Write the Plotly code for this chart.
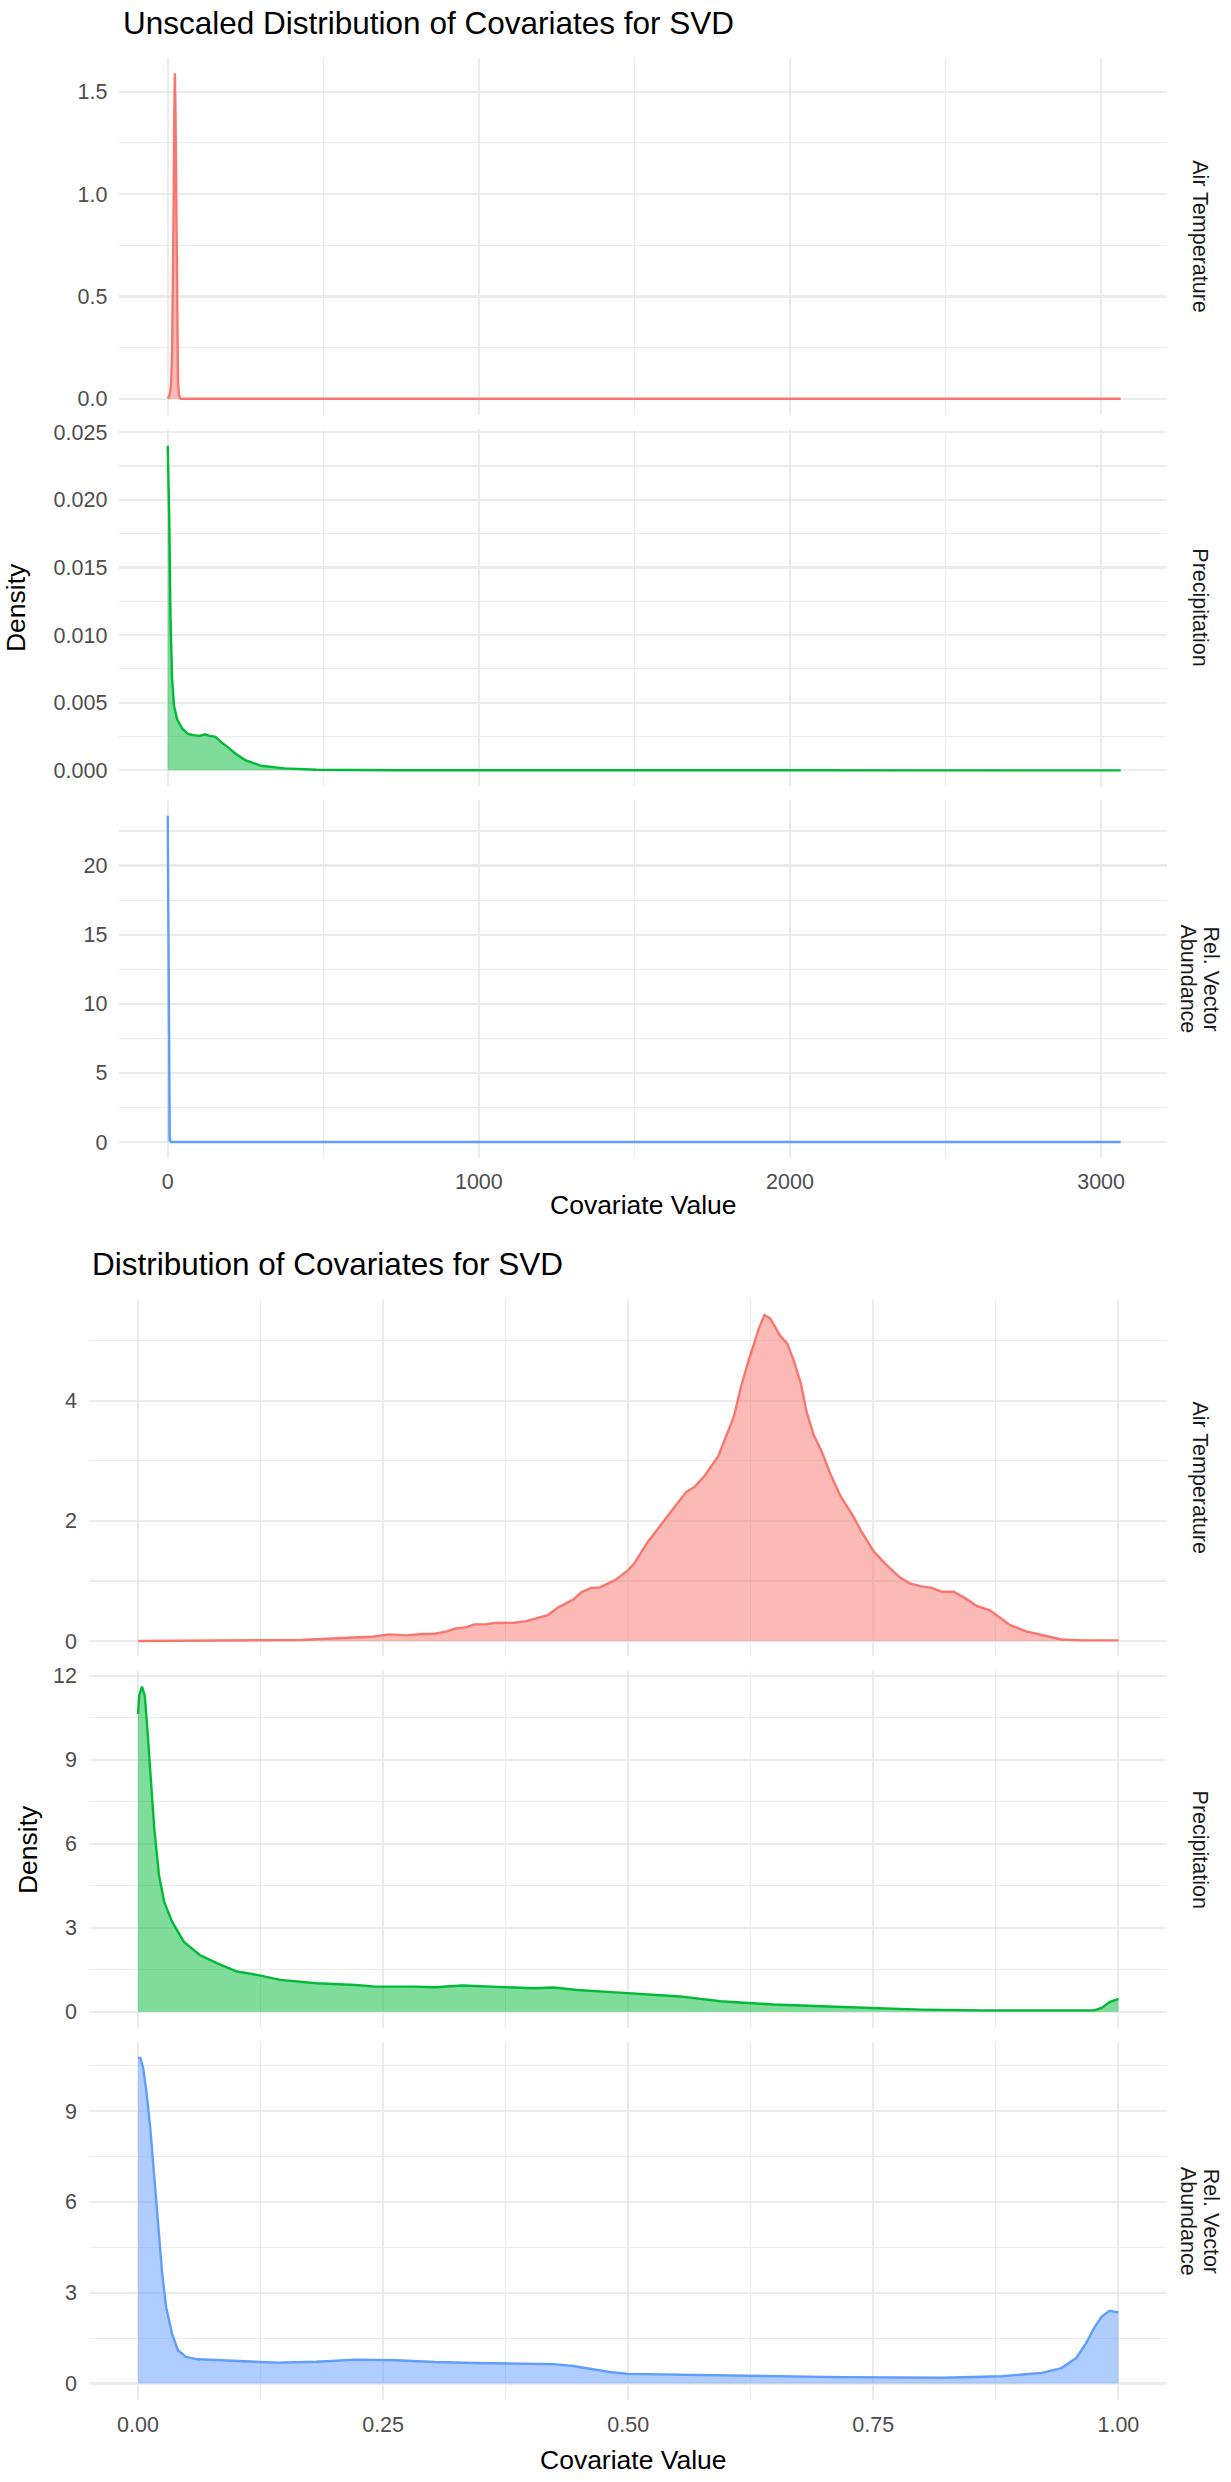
import plotly.graph_objects as go

W, H = 1231, 2482
FONT = "Liberation Sans, Arial, Helvetica, sans-serif"

# ------------------------- data -------------------------
covariates = ["Air Temperature", "Precipitation", "Rel. Vector Abundance"]
line_colors = ["#F8766D", "#00BA38", "#619CFF"]
fill_colors = ["rgba(248,118,109,0.5)", "rgba(0,186,56,0.5)", "rgba(97,156,255,0.5)"]

# Unscaled densities
raw_air_x = [0, 4, 8, 11, 14, 17, 19, 21, 23, 25, 27, 29, 31, 33, 36, 39, 43, 3063]
raw_air_y = [0.0, 0.01, 0.03, 0.08, 0.22, 0.55, 0.95, 1.38, 1.59, 1.40, 0.98, 0.55, 0.25, 0.09, 0.02, 0.005, 0.0, 0.0]

raw_pre_x = [0, 5, 9, 14, 20, 30, 46, 65, 84, 103, 119, 135, 154, 173, 192, 217, 249, 300, 376, 478, 732, 3063]
raw_pre_y = [0.0240, 0.0185, 0.0112, 0.0068, 0.0048, 0.0038, 0.0031, 0.0027, 0.0026, 0.00255, 0.00267,
             0.00255, 0.00248, 0.00206, 0.00174, 0.00125, 0.00076, 0.00034, 0.00015, 0.00005, 0.00001, 0.0]

raw_vec_x = [0, 1.3, 2.5, 3.8, 5.1, 6.5, 8, 10, 3063]
raw_vec_y = [23.6, 19.7, 16.6, 10.9, 1.5, 0.5, 0.1, 0.0, 0.0]

# Scaled densities
sc_air_x = [0.0, 0.101, 0.166, 0.214, 0.238, 0.256, 0.266, 0.274, 0.290, 0.303, 0.315, 0.323, 0.335,
            0.343, 0.355, 0.363, 0.383, 0.395, 0.407, 0.418, 0.428, 0.438, 0.444, 0.452, 0.462, 0.471,
            0.487, 0.500, 0.506, 0.520, 0.533, 0.545, 0.559, 0.568, 0.578, 0.592, 0.602, 0.608, 0.615,
            0.623, 0.633, 0.639, 0.645, 0.655, 0.662, 0.668, 0.676, 0.682, 0.689, 0.697, 0.707, 0.717,
            0.728, 0.738, 0.750, 0.762, 0.777, 0.787, 0.799, 0.809, 0.820, 0.832, 0.844, 0.856, 0.869,
            0.877, 0.889, 0.906, 0.926, 0.942, 0.963, 1.0]
sc_air_y = [0.0, 0.005, 0.017, 0.055, 0.07, 0.11, 0.10, 0.094, 0.116, 0.122, 0.16, 0.205, 0.232,
            0.277, 0.277, 0.30, 0.304, 0.326, 0.38, 0.43, 0.553, 0.647, 0.69, 0.81, 0.885, 0.893,
            1.017, 1.18, 1.29, 1.65, 1.93, 2.19, 2.48, 2.57, 2.75, 3.08, 3.51, 3.75, 4.23,
            4.68, 5.19, 5.43, 5.37, 5.08, 4.96, 4.71, 4.30, 3.81, 3.44, 3.17, 2.75, 2.40,
            2.12, 1.82, 1.50, 1.29, 1.06, 0.96, 0.91, 0.89, 0.82, 0.82, 0.71, 0.58, 0.51,
            0.41, 0.27, 0.16, 0.08, 0.025, 0.01, 0.01]

sc_pre_x = [0.0, 0.0012, 0.004, 0.0069, 0.0093, 0.0125, 0.0166, 0.0214, 0.0267, 0.0347, 0.0468, 0.063,
            0.081, 0.101, 0.1214, 0.145, 0.182, 0.222, 0.242, 0.283, 0.303, 0.331, 0.363, 0.403, 0.424,
            0.448, 0.471, 0.500, 0.553, 0.594, 0.648, 0.697, 0.750, 0.799, 0.861, 0.922, 0.975, 0.983,
            0.991, 1.0]
sc_pre_y = [10.64, 11.29, 11.62, 11.29, 10.22, 8.44, 6.54, 4.88, 3.93, 3.22, 2.50, 2.03,
            1.73, 1.44, 1.32, 1.14, 1.02, 0.96, 0.90, 0.90, 0.88, 0.94, 0.89, 0.84, 0.87,
            0.78, 0.73, 0.67, 0.55, 0.38, 0.26, 0.20, 0.14, 0.08, 0.05, 0.05, 0.05, 0.14,
            0.35, 0.46]

sc_vec_x = [0.0, 0.0024, 0.0052, 0.0085, 0.0125, 0.0166, 0.0206, 0.0247, 0.0287, 0.0347, 0.0407, 0.0488,
            0.061, 0.101, 0.1415, 0.1818, 0.222, 0.263, 0.303, 0.343, 0.383, 0.424, 0.444, 0.464, 0.481,
            0.500, 0.594, 0.717, 0.820, 0.881, 0.922, 0.942, 0.957, 0.967, 0.975, 0.983, 0.991, 1.0]
sc_vec_y = [10.76, 10.76, 10.43, 9.66, 8.45, 6.92, 5.16, 3.62, 2.52, 1.65, 1.10, 0.88,
            0.80, 0.75, 0.69, 0.72, 0.79, 0.77, 0.71, 0.68, 0.66, 0.64, 0.58, 0.46, 0.38,
            0.32, 0.27, 0.21, 0.19, 0.24, 0.35, 0.51, 0.84, 1.33, 1.82, 2.21, 2.40, 2.35]

# Axis ticks
top_y_ticks = [[0, 0.5, 1.0, 1.5], [0, 0.005, 0.01, 0.015, 0.02, 0.025], [0, 5, 10, 15, 20]]
top_y_text = [["0.0", "0.5", "1.0", "1.5"], ["0.000", "0.005", "0.010", "0.015", "0.020", "0.025"],
              ["0", "5", "10", "15", "20"]]
top_y_minor = [[0.25, 0.75, 1.25], [0.0025, 0.0075, 0.0125, 0.0175, 0.0225], [2.5, 7.5, 12.5, 17.5, 22.5]]
top_x_ticks = [0, 1000, 2000, 3000]
top_x_text = ["0", "1000", "2000", "3000"]
top_x_minor = [500, 1500, 2500]

bot_y_ticks = [[0, 2, 4], [0, 3, 6, 9, 12], [0, 3, 6, 9]]
bot_y_text = [["0", "2", "4"], ["0", "3", "6", "9", "12"], ["0", "3", "6", "9"]]
bot_y_minor = [[1, 3, 5], [1.5, 4.5, 7.5, 10.5], [1.5, 4.5, 7.5, 10.5]]
bot_x_ticks = [0, 0.25, 0.5, 0.75, 1.0]
bot_x_text = ["0.00", "0.25", "0.50", "0.75", "1.00"]
bot_x_minor = [0.125, 0.375, 0.625, 0.875]

# ------------------------- layout geometry (pixels) -------------------------
def px(p):
    return p / W

def py(p):
    return 1 - p / H

top_panels = [(50, 408), (422, 780.5), (795, 1153.3)]
bot_panels = [(1295, 1653.3), (1668.3, 2026.7), (2041, 2400)]
top_xdom = (119.4, 1167.4)
bot_xdom = (89, 1167.4)
top_xrange = [-155.3, 3213]
bot_xrange = [-0.05, 1.05]
top_yranges = [[-0.0779, 1.6658], [-0.001154, 0.02526], [-1.125, 24.71]]
bot_yranges = [[-0.249, 5.698], [-0.584, 12.18], [-0.553, 11.27]]

GRID = "#EBEBEB"
MAJ_W = 2.2
MIN_W = 1.1
TICK_FONT = dict(family=FONT, size=21.5, color="#4D4D4D")

fig = go.Figure()
series = [(raw_air_x, raw_air_y), (raw_pre_x, raw_pre_y), (raw_vec_x, raw_vec_y),
          (sc_air_x, sc_air_y), (sc_pre_x, sc_pre_y), (sc_vec_x, sc_vec_y)]
for i, (xs, ys) in enumerate(series):
    k = i % 3
    n = i + 1
    fig.add_trace(go.Scatter(
        x=xs, y=ys, mode="lines", fill="tozeroy",
        fillcolor=fill_colors[k], line=dict(color=line_colors[k], width=2.4),
        xaxis="x" if n == 1 else f"x{n}", yaxis="y" if n == 1 else f"y{n}",
        showlegend=False, hoverinfo="skip"))

layout = dict(width=W, height=H, margin=dict(l=0, r=0, t=0, b=0),
              paper_bgcolor="white", plot_bgcolor="white", showlegend=False,
              font=dict(family=FONT))

for i in range(6):
    n = i + 1
    top = i < 3
    k = i % 3
    xname = "xaxis" if n == 1 else f"xaxis{n}"
    yname = "yaxis" if n == 1 else f"yaxis{n}"
    ytag = "y" if n == 1 else f"y{n}"
    xtag = "x" if n == 1 else f"x{n}"
    p0, p1 = (top_panels if top else bot_panels)[k]
    xd = top_xdom if top else bot_xdom
    layout[xname] = dict(
        domain=[px(xd[0]), px(xd[1])], anchor=ytag,
        range=top_xrange if top else bot_xrange,
        tickmode="array", tickvals=top_x_ticks if top else bot_x_ticks,
        ticktext=top_x_text if top else bot_x_text,
        showticklabels=(k == 2), tickfont=TICK_FONT, ticks="", ticklabelstandoff=9,
        showgrid=True, gridcolor=GRID, gridwidth=MAJ_W, zeroline=False, showline=False,
        minor=dict(tickmode="array", tickvals=top_x_minor if top else bot_x_minor,
                   showgrid=True, gridcolor=GRID, gridwidth=MIN_W, ticks=""),
        fixedrange=True)
    layout[yname] = dict(
        domain=[py(p1), py(p0)], anchor=xtag,
        range=(top_yranges if top else bot_yranges)[k],
        tickmode="array", tickvals=(top_y_ticks if top else bot_y_ticks)[k],
        ticktext=(top_y_text if top else bot_y_text)[k],
        tickfont=TICK_FONT, ticks="", ticklabelstandoff=11,
        showgrid=True, gridcolor=GRID, gridwidth=MAJ_W, zeroline=False, showline=False,
        minor=dict(tickmode="array", tickvals=(top_y_minor if top else bot_y_minor)[k],
                   showgrid=True, gridcolor=GRID, gridwidth=MIN_W, ticks=""),
        fixedrange=True)

ann = []
def text(x, y, s, size, color="black", angle=0, xanchor="center", yanchor="middle"):
    ann.append(dict(x=px(x), y=py(y), xref="paper", yref="paper", text=s, showarrow=False,
                    xanchor=xanchor, yanchor=yanchor, textangle=angle,
                    font=dict(family=FONT, size=size, color=color)))

# titles
text(120.6, 15.3, "Unscaled Distribution of Covariates for SVD", 31.5, xanchor="left")
text(90, 1260.5, "Distribution of Covariates for SVD", 31.5, xanchor="left")
# axis titles
text(643.4, 1201, "Covariate Value", 26.5)
text(633.5, 2459.5, "Covariate Value", 26.5)
text(15.5, 601.5, "Density", 26.5, angle=-90)
text(27.5, 1847.5, "Density", 26.5, angle=-90)
# strip labels
for panels in (top_panels, bot_panels):
    for k in range(3):
        c = (panels[k][0] + panels[k][1]) / 2
        if k < 2:
            text(1200, c, covariates[k], 21.5, color="#1A1A1A", angle=90)
        else:
            text(1210.5, c, "Rel. Vector", 21.5, color="#1A1A1A", angle=90)
            text(1187.5, c, "Abundance", 21.5, color="#1A1A1A", angle=90)

layout["annotations"] = ann
fig.update_layout(**layout)
fig.write_html(
    "out.html",
    config={"displayModeBar": False, "staticPlot": True},
    post_script="document.body.style.margin='0';document.body.style.padding='0';"
                "document.documentElement.style.overflow='hidden';",
)
